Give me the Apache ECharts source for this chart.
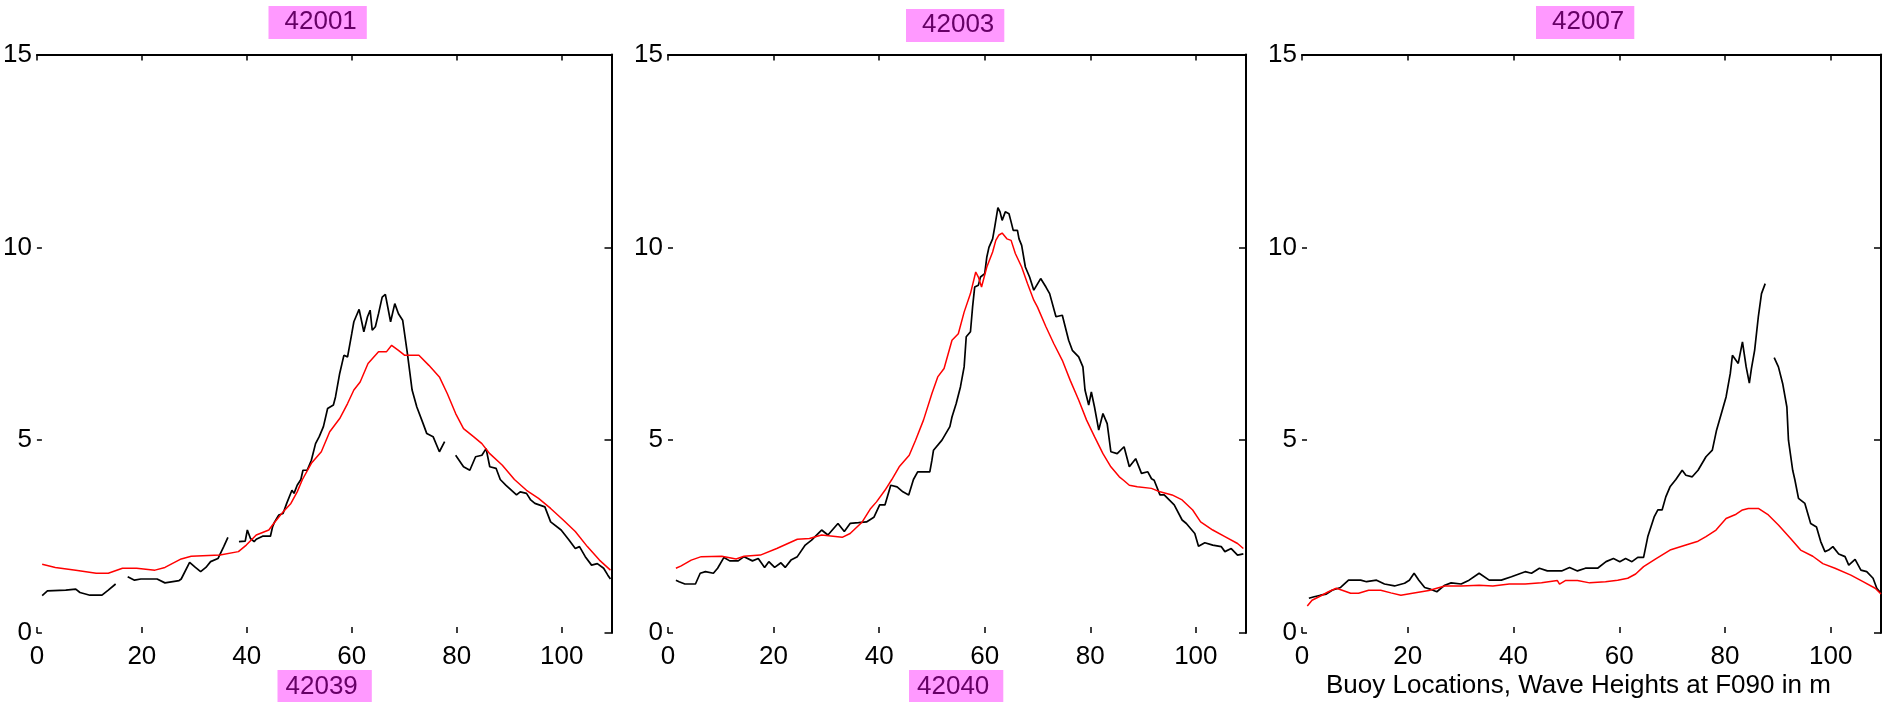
<!DOCTYPE html>
<html>
<head>
<meta charset="utf-8">
<script src="https://cdn.jsdelivr.net/npm/echarts@6/dist/echarts.min.js"></script>
<style>
  html, body { margin: 0; padding: 0; background: #ffffff; }
  #chart { width: 1890px; height: 702px; }
</style>
</head>
<body>
<div id="chart"></div>
<script>
// Buoy stations: upper label is the panel's station, lower label the paired station
const topStations = ['42001', '42003', '42007'];
const bottomStations = ['42039', '42040', ''];
const footNote = 'Buoy Locations, Wave Heights at F090 in m';

// Axis ticks
const xTicks = [0, 20, 40, 60, 80, 100];
const yTicks = [0, 5, 10, 15];
const xMax = 109.5;

// Wave heights (m) against forecast hour; '-' marks missing observations
const obs42001 = [
  [1,0.97],[2,1.09],[5.5,1.11],[7.4,1.14],[8.2,1.05],[10.1,0.98],[12.4,0.98],[13.6,1.11],[15,1.27],[16,'-'],
  [17.3,1.46],[18.6,1.37],[19.8,1.40],[22.9,1.40],[24.4,1.30],[27.1,1.36],[27.5,1.40],[29.1,1.83],[30.2,1.70],
  [31.2,1.59],[32.2,1.70],[33.1,1.85],[34.5,1.93],[35.6,2.24],[36.4,2.48],[37.5,'-'],
  [38.5,2.37],[39.7,2.38],[40.1,2.67],[40.7,2.45],[41.4,2.37],[41.8,2.43],[43,2.51],[44.5,2.51],[44.9,2.75],
  [45.3,2.88],[46.1,3.06],[46.9,3.10],[47.6,3.36],[48.6,3.70],[49,3.62],[49.6,3.83],[50.3,3.98],[50.7,4.22],
  [51.5,4.22],[52.3,4.48],[53.1,4.91],[53.8,5.09],[54.6,5.35],[55.4,5.82],[56.5,5.91],[56.9,6.12],[57.7,6.73],
  [58.5,7.20],[59.2,7.16],[60,7.76],[60.4,8.07],[60.8,8.20],[61.4,8.39],[62.3,7.81],[63,8.20],[63.5,8.37],
  [63.9,7.85],[64.5,7.94],[65.1,8.28],[65.8,8.71],[66.4,8.78],[67.4,8.07],[68.2,8.54],[68.9,8.28],[69.7,8.11],
  [70.6,7.25],[71.5,6.30],[72.4,5.86],[73.6,5.43],[74.3,5.17],[75.5,5.09],[76.7,4.70],[77.7,4.96],[78.8,'-'],
  [79.8,4.61],[81.3,4.31],[82.5,4.22],[83.6,4.57],[84.8,4.61],[85.6,4.78],[86.3,4.31],[87.5,4.27],[88.3,3.98],
  [89.4,3.83],[91.4,3.58],[92.1,3.66],[93.3,3.62],[94.1,3.45],[94.9,3.36],[96.8,3.27],[97.9,2.88],[99.9,2.67],
  [101.4,2.41],[102.6,2.19],[103.4,2.24],[104.5,1.98],[105.7,1.76],[106.8,1.80],[108,1.68],[108.8,1.50],[109.3,1.40]
];
const model42001 = [
  [1,1.78],[3.5,1.70],[7.4,1.63],[11.3,1.55],[13.6,1.55],[16.3,1.68],[19,1.68],[22.5,1.63],[24.4,1.70],
  [27.5,1.92],[29.4,1.99],[34.9,2.02],[38.4,2.11],[39.9,2.28],[41.8,2.54],[44.2,2.67],[44.9,2.80],[46.9,3.14],
  [48.4,3.36],[49.6,3.66],[50.6,3.98],[52.3,4.40],[54.2,4.70],[55.8,5.22],[57.7,5.56],[59.2,5.95],[60.4,6.30],
  [61.6,6.51],[63.1,6.99],[65.1,7.29],[66.6,7.29],[67.6,7.46],[68.9,7.33],[70.1,7.20],[72.8,7.20],[74.7,6.94],
  [76.7,6.64],[78.2,6.21],[79.8,5.69],[81.3,5.30],[83.2,5.09],[84.8,4.91],[86.3,4.65],[88.7,4.35],[91,3.98],
  [93.3,3.70],[95.6,3.49],[97.9,3.23],[100.3,2.93],[102.6,2.63],[104.9,2.24],[107.2,1.89],[109.3,1.63]
];
const obs42003 = [
  [1.5,1.37],[2.1,1.33],[3.2,1.27],[5.2,1.27],[6.1,1.55],[7.1,1.59],[8.6,1.55],[9.4,1.68],[10.6,1.96],
  [11.7,1.87],[13.3,1.87],[14.4,1.98],[16,1.87],[17.1,1.93],[18.3,1.70],[19.1,1.85],[20.2,1.70],[21.4,1.82],
  [22.2,1.70],[23.3,1.89],[24.5,1.98],[26,2.28],[27.2,2.41],[29.1,2.67],[30.3,2.54],[32.2,2.84],[33.4,2.63],
  [34.5,2.84],[36.1,2.86],[37.6,2.88],[39,3.0],[40.1,3.32],[41.1,3.32],[42.2,3.83],[43.4,3.79],[44.5,3.66],
  [45.6,3.58],[46.5,3.98],[47.3,4.18],[49.6,4.18],[50,4.48],[50.3,4.74],[51.9,5.0],[53.4,5.35],[53.8,5.60],
  [54.6,5.95],[55.4,6.38],[56.1,6.90],[56.5,7.68],[57.3,7.81],[57.7,8.45],[58.1,8.97],[58.8,9.02],[59.2,9.23],
  [60,9.32],[60.4,9.75],[60.8,10.0],[61.5,10.22],[61.9,10.53],[62.5,11.03],[62.9,10.92],[63.3,10.70],[63.9,10.92],
  [64.6,10.87],[65,10.66],[65.4,10.44],[66.2,10.44],[66.5,10.22],[67,10.05],[67.7,9.49],[68.5,9.23],[69.3,8.89],
  [70.6,9.19],[71.6,8.97],[72.3,8.80],[73.5,8.20],[74.7,8.24],[75.9,7.59],[76.6,7.33],[77.8,7.16],[78.6,6.90],
  [79,6.30],[79.7,5.91],[80.2,6.25],[80.8,5.86],[81.6,5.26],[82.4,5.69],[83.2,5.43],[83.9,4.70],[85.1,4.65],
  [86.4,4.83],[87.4,4.31],[88.6,4.52],[89.7,4.14],[90.9,4.18],[91.6,4.0],[92.1,3.96],[93.2,3.58],[94,3.58],
  [95.9,3.32],[97.4,2.93],[98.2,2.84],[99.8,2.58],[100.5,2.25],[101.7,2.34],[103.2,2.28],[104.8,2.24],
  [105.5,2.11],[106.7,2.19],[107.9,2.02],[109,2.05]
];
const model42003 = [
  [1.5,1.68],[2.5,1.74],[4.4,1.89],[6.3,1.98],[10.2,1.99],[12.9,1.92],[14.4,1.99],[17.5,2.02],[20.6,2.19],
  [24.5,2.43],[26.8,2.45],[29.1,2.54],[33,2.48],[34.5,2.58],[36.8,2.88],[38.4,3.23],[39.5,3.40],[41.1,3.70],
  [42.4,3.98],[43.8,4.31],[45.7,4.61],[46.9,5.0],[48.4,5.52],[50,6.21],[51.1,6.64],[52.3,6.86],[53.8,7.59],
  [55,7.76],[56.1,8.32],[57.3,8.80],[58.3,9.36],[58.8,9.23],[59.4,8.97],[60.4,9.49],[61.5,9.88],[62.1,10.18],
  [62.7,10.32],[63.3,10.37],[64.2,10.22],[65,10.18],[65.8,9.84],[67,9.49],[68.1,9.06],[69.3,8.63],[70,8.45],
  [71.6,7.94],[73.1,7.50],[74.7,7.07],[76.2,6.55],[77.8,6.04],[79.3,5.52],[80.8,5.09],[82.4,4.65],[83.9,4.31],
  [85.5,4.05],[86.3,3.96],[87.4,3.83],[88.9,3.79],[91.6,3.75],[93.2,3.66],[95.5,3.58],[97.4,3.45],[99.4,3.19],
  [100.9,2.88],[103.2,2.67],[105.5,2.50],[107.9,2.32],[109,2.19]
];
const obs42007 = [
  [1.3,0.90],[2.3,0.94],[3.5,0.98],[4.6,1.01],[5.7,1.11],[7.3,1.18],[8.8,1.37],[11.1,1.37],[12.2,1.33],
  [14.1,1.37],[15.6,1.27],[17.5,1.22],[19.4,1.29],[20.3,1.37],[21.2,1.55],[22.1,1.37],[23.2,1.18],[24.4,1.13],
  [25.5,1.07],[27,1.24],[28.2,1.30],[30.1,1.27],[31.6,1.37],[33.5,1.55],[35.4,1.37],[37.7,1.37],[39.6,1.46],
  [42.2,1.59],[43.4,1.55],[44.9,1.68],[46.4,1.61],[49.1,1.61],[50.6,1.70],[52.1,1.61],[53.6,1.68],[55.9,1.68],
  [57.5,1.85],[58.9,1.93],[60.1,1.85],[61.2,1.93],[62.4,1.85],[63.5,1.96],[64.6,1.96],[65.4,2.50],[66.6,3.01],
  [67.3,3.19],[68.1,3.19],[68.8,3.53],[69.6,3.79],[70.7,3.98],[71.9,4.22],[72.6,4.09],[73.8,4.05],[74.9,4.22],
  [76.4,4.57],[77.6,4.74],[78.4,5.26],[79.5,5.78],[80.2,6.12],[81,6.73],[81.4,7.20],[82.5,6.99],[83.3,7.55],
  [84,6.90],[84.6,6.48],[85,6.86],[85.6,7.33],[86.3,8.20],[86.9,8.80],[87.6,9.06],[88.5,'-'],
  [89.3,7.14],[90.1,6.90],[90.9,6.47],[91.7,5.86],[92,5.0],[92.8,4.22],[93.2,3.98],[93.9,3.49],[95.1,3.36],
  [96.2,2.84],[97.3,2.75],[98.1,2.37],[98.9,2.11],[99.6,2.15],[100.4,2.24],[101.5,2.05],[102.7,1.98],
  [103.4,1.76],[104.6,1.91],[105.7,1.63],[106.8,1.59],[108,1.42],[108.7,1.16],[109.5,1.03]
];
const model42007 = [
  [1,0.70],[1.9,0.85],[3.5,0.96],[5,1.07],[6.5,1.16],[7.6,1.11],[9.2,1.03],[10.7,1.03],[12.6,1.11],
  [14.9,1.11],[16.8,1.04],[18.7,0.98],[20.9,1.03],[24,1.10],[27,1.22],[30.1,1.22],[33.5,1.24],[36.1,1.22],
  [39.2,1.27],[42.2,1.27],[45.3,1.30],[48.3,1.36],[48.7,1.27],[49.8,1.36],[52.1,1.36],[54.4,1.30],[57.4,1.33],
  [59.7,1.37],[61.6,1.42],[63.1,1.53],[64.6,1.72],[66.9,1.92],[69.6,2.15],[72.6,2.28],[74.9,2.38],[76.4,2.50],
  [78.3,2.67],[80.2,2.97],[82.1,3.08],[83.3,3.19],[84.4,3.23],[86.3,3.23],[88.2,3.06],[90.1,2.80],[92.4,2.45],
  [94.3,2.15],[96.6,1.99],[98.5,1.80],[100.8,1.68],[103.8,1.50],[106.1,1.33],[108.4,1.16],[109.5,1.01]
];

const observed = [obs42001, obs42003, obs42007];
const modelled = [model42001, model42003, model42007];

const FONT = '"Liberation Sans", Arial, Helvetica, sans-serif';
const BLACK = '#000000';

// Panel frames in pixels
const panels = [
  { left: 34.5, width: 577 },
  { left: 668, width: 578 },
  { left: 1302, width: 579 }
];
const gridTop = 54.5;
const gridHeight = 578.5;

const grids = [], xAxes = [], yAxes = [], series = [];

const tickText = { color: BLACK, fontSize: 26, fontFamily: FONT, fontWeight: 'normal' };

panels.forEach(function (p, i) {
  grids.push({ left: p.left, top: gridTop, width: p.width, height: gridHeight, containLabel: false });

  // bottom axis: ticks and labels only
  xAxes.push({
    gridIndex: i, type: 'value', position: 'bottom', min: 0, max: xMax, interval: 20,
    axisLine: { show: false },
    axisTick: { show: true, inside: true, length: 6, lineStyle: { color: BLACK, width: 1.5 } },
    axisLabel: Object.assign({ margin: 11, showMaxLabel: false,
      formatter: function (v) { return xTicks.indexOf(v) >= 0 ? String(v) : ''; } }, tickText),
    splitLine: { show: false }
  });
  // top frame line
  xAxes.push({
    gridIndex: i, type: 'value', position: 'top', min: 0, max: xMax, interval: 20,
    axisLine: { show: true, onZero: false, lineStyle: { color: BLACK, width: 2 } },
    axisTick: { show: true, inside: true, length: 6, lineStyle: { color: BLACK, width: 1.5 } },
    axisLabel: { show: false },
    splitLine: { show: false }
  });
  // left axis: ticks and labels only
  yAxes.push({
    gridIndex: i, type: 'value', position: 'left', min: 0, max: 15, interval: 5,
    axisLine: { show: false },
    axisTick: { show: true, inside: true, length: 5, lineStyle: { color: BLACK, width: 1.5 } },
    axisLabel: Object.assign({ margin: 5,
      formatter: function (v) { return yTicks.indexOf(v) >= 0 ? String(v) : ''; } }, tickText),
    splitLine: { show: false }
  });
  // right frame line
  yAxes.push({
    gridIndex: i, type: 'value', position: 'right', min: 0, max: 15, interval: 5,
    axisLine: { show: true, onZero: false, lineStyle: { color: BLACK, width: 2 } },
    axisTick: { show: true, inside: true, length: 7, lineStyle: { color: BLACK, width: 1.5 } },
    axisLabel: { show: false },
    splitLine: { show: false }
  });

  series.push({
    name: 'Observed ' + topStations[i], type: 'line',
    xAxisIndex: 2 * i, yAxisIndex: 2 * i,
    data: observed[i], showSymbol: false, symbol: 'none', connectNulls: false,
    lineStyle: { color: BLACK, width: 1.7 }, silent: true
  });
  series.push({
    name: 'Model ' + topStations[i], type: 'line',
    xAxisIndex: 2 * i, yAxisIndex: 2 * i,
    data: modelled[i], showSymbol: false, symbol: 'none',
    lineStyle: { color: '#ff0000', width: 1.5 }, silent: true
  });
});

// Station tags
const tagStyle = { color: '#660066', fontSize: 26, fontFamily: FONT, fontWeight: 'normal' };
const tagPos = [
  { top: { left: 268.5, top: 6 }, bottom: { left: 277.5, top: 670 } },
  { top: { left: 906, top: 9 }, bottom: { left: 909, top: 670 } },
  { top: { left: 1536, top: 6 }, bottom: null }
];
const titles = [];
tagPos.forEach(function (t, i) {
  titles.push({ text: topStations[i], left: t.top.left, top: t.top.top,
    backgroundColor: '#ff99ff', padding: [3, 10, 4, 16], textStyle: tagStyle });
  if (t.bottom && bottomStations[i]) {
    titles.push({ text: bottomStations[i], left: t.bottom.left, top: t.bottom.top,
      backgroundColor: '#ff99ff', padding: [4, 14, 8, 8], textStyle: tagStyle });
  }
});
titles.push({ text: footNote, left: 1326, top: 673, padding: 0,
  textStyle: { color: BLACK, fontSize: 26, fontFamily: FONT, fontWeight: 'normal' } });

const chart = echarts.init(document.getElementById('chart'), null, { renderer: 'canvas' });
chart.setOption({
  backgroundColor: '#ffffff',
  animation: false,
  title: titles,
  grid: grids,
  xAxis: xAxes,
  yAxis: yAxes,
  series: series
});
</script>
</body>
</html>
